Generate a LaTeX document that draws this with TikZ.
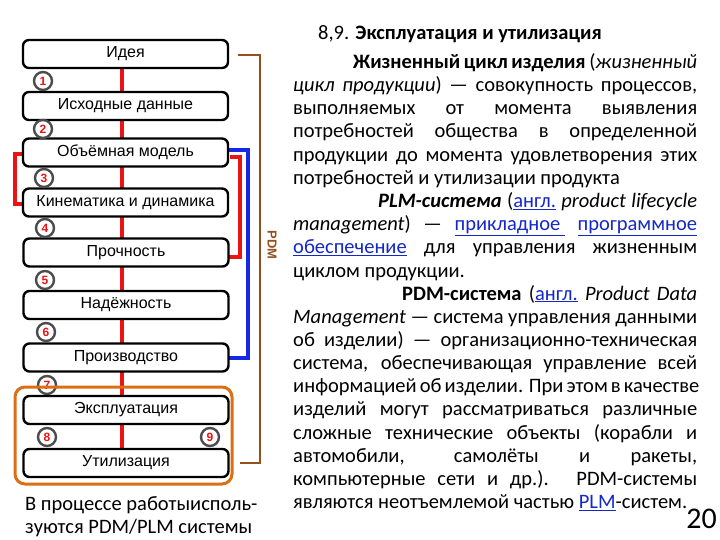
\documentclass[tikz,border=0pt]{standalone}
\usepackage{fontspec}
\setmainfont{Carlito}
\newfontfamily\arialf{Liberation Sans}
\definecolor{linkblue}{RGB}{20,40,200}
\definecolor{pdmbrown}{RGB}{150,80,30}
\definecolor{oran}{RGB}{220,110,20}
\definecolor{redl}{RGB}{235,20,20}
\definecolor{bluel}{RGB}{20,40,230}
\newcommand\lnk[1]{\textcolor{linkblue}{\underline{#1}}}
\begin{document}
\begin{tikzpicture}[x=1pt,y=-1pt,
  stage/.style={draw=black,line width=2.4pt,fill=white,rounded corners=6pt,minimum width=205pt,minimum height=28pt,inner sep=0pt,font=\arialf\fontsize{16}{18}\selectfont},
  num/.style={circle,draw=black!70,line width=2.4pt,fill=white,minimum size=18pt,inner sep=0pt,font=\arialf\bfseries\fontsize{12}{12}\selectfont,text=redl},
  txt/.style={anchor=base west,inner sep=0pt,font=\fontsize{20.5}{23}\selectfont},
]
\useasboundingbox (0,0) rectangle (720,540);
% red spine
\draw[redl,line width=4.5pt] (122,68) -- (122,448);
% brown PDM
\draw[pdmbrown,line width=2pt] (238,55) -- (260,55) -- (260,463) -- (240,463);
\node[rotate=-90,text=pdmbrown,font=\arialf\bfseries\fontsize{13}{13}\selectfont] (pdm) at (272,245) {PDM};
% blue
\draw[bluel,line width=4pt] (228,150) -- (248,150) -- (248,358) -- (228,358);
% red brackets
\draw[redl,line width=4pt] (230,157) -- (240,157) -- (240,257) -- (228,257);
\draw[redl,line width=4pt] (25,154) -- (15,154) -- (15,204) -- (25,204);
% stages
\node[stage] (s0) at (125.5,54) {Идея};
\node[stage] (s1) at (125.5,106) {Исходные данные};
\node[stage] (s2) at (125.5,152.5) {Объёмная модель};
\node[stage] (s3) at (125.5,202.5) {Кинематика и динамика};
\node[stage] (s4) at (126,252.5) {Прочность};
\node[stage] (s5) at (126,305) {Надёжность};
\node[stage] (s6) at (126,357.5) {Производство};
% numbers
\node[num] (n1) at (43,81) {1};
\node[num] (n2) at (43,129) {2};
\node[num] (n3) at (44,178) {3};
\node[num] (n4) at (45,228) {4};
\node[num] (n5) at (45,280) {5};
\node[num] (n6) at (46,332) {6};
\node[num] (n7) at (47,385) {7};
\node[stage] (s7) at (126,410) {Эксплуатация};
\node[stage] (s8) at (126,463) {Утилизация};
\node[num] (n8) at (47,437) {8};
\node[num] (n9) at (210,437) {9};
\draw[oran,line width=3pt,rounded corners=10pt] (15,387) rectangle (232,484);
% caption
\node[txt] (c1) at (25,510) {В процессе работыисполь-};
\node[txt] (c2) at (25,533) {зуются PDM/PLM системы};
% right text
\node[txt] (t0) at (318,40) {8,9. \textbf{Эксплуатация и утилизация}};
\newcommand\jl[4]{\node[txt] (#1) at (#2,#3) {\makebox[\dimexpr697pt-#2pt\relax][s]{#4}};}
\newcommand\nl[4]{\node[txt] (#1) at (#2,#3) {#4};}
\jl{t1}{353}{68.5}{\textbf{Жизненный цикл изделия} (\textit{жизненный}}
\jl{t2}{293}{91.7}{\textit{цикл продукции}) — совокупность процессов,}
\jl{t3}{293}{114.8}{выполняемых от момента выявления}
\jl{t4}{293}{138}{потребностей общества в определенной}
\jl{t5}{293}{161.1}{продукции до момента удовлетворения этих}
\nl{t6}{293}{184.3}{потребностей и утилизации продукта}
\jl{t7}{378}{207.5}{\textbf{\textit{PLM-система}} (\lnk{англ.} \textit{product lifecycle}}
\jl{t8}{293}{230.6}{\textit{management}) — \lnk{прикладное\ } \lnk{программное}}
\jl{t9}{293}{253.8}{\lnk{обеспечение} для управления жизненным}
\nl{t10}{293}{277}{циклом продукции.}
\jl{t11}{402}{300.1}{\textbf{PDM-система} (\lnk{англ.} \textit{Product Data}}
\jl{t12}{293}{323.3}{\textit{Management} — система управления данными}
\jl{t13}{293}{346.4}{об изделии) — организационно-техническая}
\jl{t14}{293}{369.6}{система, обеспечивающая управление всей}
\jl{t15}{293}{392.8}{информацией об изделии. При этом в качестве}
\jl{t16}{293}{415.9}{изделий могут рассматриваться различные}
\jl{t17}{293}{439.1}{сложные технические объекты (корабли и}
\jl{t18}{293}{462.2}{автомобили, самолёты и ракеты,}
\jl{t19}{293}{485.4}{компьютерные сети и др.). PDM-системы}
\nl{t20}{293}{508.5}{являются неотъемлемой частью \lnk{PLM}-систем.}
\node[anchor=base east,inner sep=0pt,font=\fontsize{30}{30}\selectfont] (pg) at (717,528) {20};
\end{tikzpicture}
\end{document}
